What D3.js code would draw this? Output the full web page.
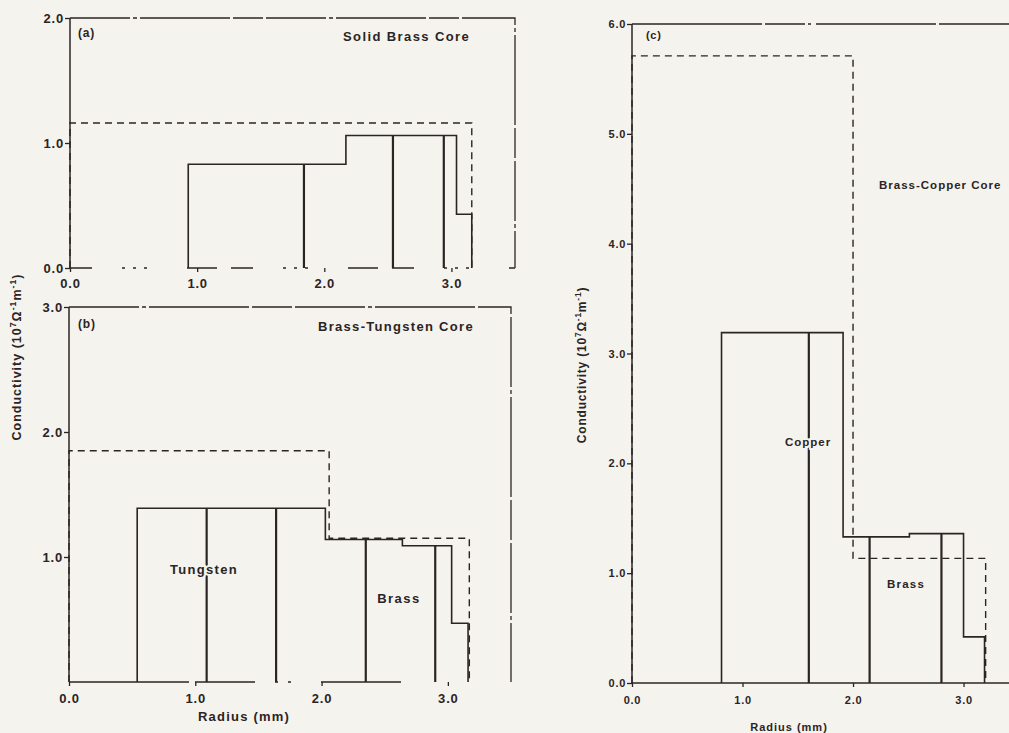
<!DOCTYPE html>
<html><head><meta charset="utf-8">
<script src="https://cdn.jsdelivr.net/npm/d3@7"></script>
<style>
html,body{margin:0;padding:0;background:#f5f3ee;}
svg{display:block;}
text{font-family:"Liberation Sans",Arial,Helvetica,sans-serif;font-weight:bold;fill:#2b2424;}
</style></head>
<body>
<svg id="chart" width="1009" height="733"></svg>
<script>
// ---------- data (radius in mm, conductivity in 10^7 S/m) ----------
// Panel (a) Solid Brass Core
const recA_r = [0.93, 2.17, 3.04, 3.16];
const recA_s = [0.83, 1.06, 0.43];
const divA_r = [1.84, 2.54, 2.94];
const trueA_r = [0, 3.16];
const trueA_s = [1.16];
// Panel (b) Brass-Tungsten Core
const recB_r = [0.54, 2.03, 2.64, 3.03, 3.16];
const recB_s = [1.39, 1.14, 1.09, 0.47];
const divB_r = [1.09, 1.64, 2.35, 2.90];
const trueB_r = [0, 2.06, 3.17];
const trueB_s = [1.85, 1.15];
// Panel (c) Brass-Copper Core
const recC_r = [0.81, 1.91, 2.51, 3.00, 3.19];
const recC_s = [3.19, 1.33, 1.36, 0.42];
const divC_r = [1.60, 2.15, 2.80];
const trueC_r = [0, 2.00, 3.20];
const trueC_s = [5.71, 1.135];
// ticks
const xTicks = [0, 1, 2, 3];
const yTicksA = [0, 1, 2];
const yTicksB = [1, 2, 3];
const yTicksC = [0, 1, 2, 3, 4, 5, 6];
const xMax = 3.5;

const svg = d3.select("#chart");
const INK = "#2b2424";

function stepPoints(r, s) {
  const pts = [[r[0], 0]];
  for (let i = 0; i < s.length; i++) {
    pts.push([r[i], s[i]]);
    pts.push([r[i + 1], s[i]]);
  }
  pts.push([r[r.length - 1], 0]);
  return pts;
}
function valueAt(r, s, x) {
  for (let i = 0; i < s.length; i++) if (x >= r[i] && x <= r[i + 1]) return s[i];
  return 0;
}

function panel(cfg) {
  const x = d3.scaleLinear().domain([0, xMax]).range(cfg.xr);
  const y = d3.scaleLinear().domain([0, cfg.yMax]).range(cfg.yr);
  const g = svg.append("g");
  const fs = cfg.fs;

  g.append("path")
    .attr("d", `M${x(0)},${y(cfg.yMax)}H${x(xMax)}V${y(0)}`)
    .attr("fill", "none").attr("stroke", INK).attr("stroke-width", 1.3)
    .attr("stroke-dasharray", cfg.frameDash);
  g.append("line").attr("x1", x(0)).attr("x2", x(xMax)).attr("y1", y(0)).attr("y2", y(0))
    .attr("stroke", INK).attr("stroke-width", 1.3).attr("stroke-dasharray", cfg.baseDash);
  g.append("line").attr("x1", x(0)).attr("x2", x(0)).attr("y1", y(0)).attr("y2", y(cfg.yMax))
    .attr("stroke", INK).attr("stroke-width", 1.5);

  const ya = d3.axisLeft(y).tickValues(cfg.yTicks).tickSize(5).tickPadding(1).tickFormat(d3.format(".1f"));
  const yg = g.append("g").attr("transform", `translate(${x(0)},0)`).call(ya);
  yg.select(".domain").remove();
  yg.selectAll("line").attr("stroke", INK).attr("stroke-width", 1.3);
  yg.selectAll("text").attr("font-size", fs).attr("letter-spacing", cfg.ls).attr("fill", INK)
    .attr("font-family", null);

  const xa = d3.axisBottom(x).tickValues(xTicks).tickSize(4).tickPadding(cfg.xPad).tickFormat(d3.format(".1f"));
  const xg = g.append("g").attr("transform", `translate(0,${y(0)})`).call(xa);
  xg.select(".domain").remove();
  xg.selectAll("line").attr("stroke", INK).attr("stroke-width", 1.3);
  xg.selectAll("text").attr("font-size", fs).attr("letter-spacing", cfg.ls).attr("fill", INK)
    .attr("font-family", null);

  const line = d3.line().x(d => x(d[0])).y(d => y(d[1]));

  g.append("path").datum(stepPoints(cfg.trueR, cfg.trueS))
    .attr("d", line).attr("fill", "none").attr("stroke", INK)
    .attr("stroke-width", 1.4).attr("stroke-dasharray", "7,5");

  g.append("path").datum(stepPoints(cfg.recR, cfg.recS))
    .attr("d", line).attr("fill", "none").attr("stroke", INK).attr("stroke-width", 1.6);

  g.selectAll(".div").data(cfg.divR).enter().append("line")
    .attr("x1", d => x(d)).attr("x2", d => x(d))
    .attr("y1", y(0)).attr("y2", d => y(valueAt(cfg.recR, cfg.recS, d)))
    .attr("stroke", INK).attr("stroke-width", 2.2);

  cfg.labels.forEach(L => {
    g.append("text").attr("x", L.x).attr("y", L.y).attr("text-anchor", L.anchor || "start")
      .attr("font-size", L.fs || fs).attr("letter-spacing", L.ls != null ? L.ls : cfg.ls)
      .attr("stroke", L.halo ? "#f5f3ee" : "none").attr("stroke-width", L.halo ? 4 : 0)
      .attr("paint-order", "stroke")
      .text(L.t);
  });
  return {x, y};
}

function yTitle(cx, cy, fs, ls) {
  const t = svg.append("text")
    .attr("transform", `translate(${cx},${cy}) rotate(-90)`)
    .attr("text-anchor", "middle").attr("font-size", fs).attr("letter-spacing", ls);
  t.append("tspan").text("Conductivity (10");
  t.append("tspan").attr("baseline-shift", "super").attr("font-size", fs * 0.7).text("7");
  t.append("tspan").text("Ω");
  t.append("tspan").attr("baseline-shift", "super").attr("font-size", fs * 0.7).text("-1");
  t.append("tspan").text("m");
  t.append("tspan").attr("baseline-shift", "super").attr("font-size", fs * 0.7).text("-1");
  t.append("tspan").text(")");
}

panel({
  xr: [70, 515], yr: [268, 18], yMax: 2, yTicks: yTicksA, fs: 13, ls: 0.8, xPad: 7,
  recR: recA_r, recS: recA_s, divR: divA_r, trueR: trueA_r, trueS: trueA_s,
  frameDash: "60,3,4,3,90,3,30,3", baseDash: "22,30,3,8,3,8,3,40,30,14",
  labels: [
    {t: "(a)", x: 78, y: 37, fs: 12},
    {t: "Solid Brass Core", x: 343, y: 41, ls: 1.4, fs: 13}
  ]
});
panel({
  xr: [69, 511], yr: [682, 307], yMax: 3, yTicks: yTicksB, fs: 13, ls: 0.8, xPad: 8,
  recR: recB_r, recS: recB_s, divR: divB_r, trueR: trueB_r, trueS: trueB_s,
  frameDash: "70,3,4,3,100,3,40,3", baseDash: "120,6,60,20,3,10,3,30,80",
  labels: [
    {t: "(b)", x: 78, y: 328, fs: 12},
    {t: "Brass-Tungsten Core", x: 318, y: 331, ls: 1.3, fs: 13},
    {t: "Tungsten", x: 204, y: 574, anchor: "middle", ls: 1.3, fs: 13, halo: true},
    {t: "Brass", x: 399, y: 603, anchor: "middle", ls: 1.5, fs: 13},
    {t: "Radius (mm)", x: 244, y: 721, anchor: "middle", ls: 1.2, fs: 13}
  ]
});
panel({
  xr: [632, 1018.8], yr: [683, 24], yMax: 6, yTicks: yTicksC, fs: 11, ls: 0.7, xPad: 9,
  recR: recC_r, recS: recC_s, divR: divC_r, trueR: trueC_r, trueS: trueC_s,
  frameDash: "130,3,40,3,3,5,120,3", baseDash: "none",
  labels: [
    {t: "(c)", x: 646, y: 39, fs: 11},
    {t: "Brass-Copper Core", x: 879, y: 189, ls: 1.0, fs: 11.5},
    {t: "Copper", x: 808, y: 446, anchor: "middle", ls: 1.0, fs: 11.5, halo: true},
    {t: "Brass", x: 906, y: 588, anchor: "middle", ls: 1.2, fs: 11.5},
    {t: "Radius (mm)", x: 789, y: 731, anchor: "middle", ls: 1.0, fs: 11}
  ]
});

yTitle(21, 357, 12.5, 1.0);
yTitle(586, 365, 12, 0.8);
</script>
</body></html>
